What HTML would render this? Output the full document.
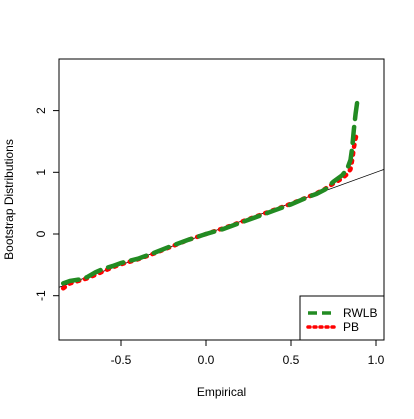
<!DOCTYPE html>
<html><head><meta charset="utf-8"><style>
body{margin:0;background:#fff}
text{font-family:"Liberation Sans",sans-serif;font-size:12px;fill:#000}
</style></head><body>
<svg id="c" width="414" height="414" xmlns="http://www.w3.org/2000/svg">
<rect width="414" height="414" fill="#fff"/>
</svg>
<script>
const xTicks=[-0.5,0,0.5,1];
const yTicks=[-1,0,1,2];
const empirical=[-0.84,-0.8,-0.75,-0.7,-0.65,-0.6,-0.55,-0.5,-0.4,-0.3,-0.2,-0.1,0,0.1,0.2,0.3,0.4,0.5,0.6,0.65,0.7,0.75,0.8,0.83,0.85,0.86,0.87,0.88,0.89];
const rwlb=[-0.8,-0.76,-0.74,-0.7,-0.62,-0.56,-0.52,-0.47,-0.4,-0.3,-0.19,-0.09,0,0.08,0.18,0.28,0.38,0.48,0.6,0.65,0.72,0.85,0.95,1.05,1.2,1.4,1.7,1.95,2.15];
const pb=[-0.88,-0.8,-0.76,-0.72,-0.66,-0.6,-0.54,-0.49,-0.41,-0.31,-0.2,-0.09,0,0.09,0.19,0.29,0.39,0.49,0.6,0.66,0.73,0.82,0.9,0.97,1.05,1.2,1.4,1.55,1.65];
const svg=document.getElementById('c');const NS='http://www.w3.org/2000/svg';
const L=59,R=384,T=59,B=340;
const X=v=>206+v*170;
const Y=v=>234-v*61.7;
function mk(tag,at,p){const e=document.createElementNS(NS,tag);for(const k in at)e.setAttribute(k,at[k]);(p||svg).appendChild(e);return e;}
const clip=mk('clipPath',{id:'cp'});mk('rect',{x:L,y:T,width:R-L,height:B-T},clip);
// abline
const ab=mk('line',{x1:X(-2),y1:Y(-2),x2:X(2),y2:Y(2),stroke:'#000','stroke-width':0.8,'clip-path':'url(#cp)'});


function pts(ys){return empirical.map((x,i)=>X(x)+','+Y(ys[i])).join(' ');}
const pr=mk('polyline',{points:pts(pb),fill:'none',stroke:'#f00','stroke-width':4.5,'stroke-dasharray':'2,6','stroke-linecap':'round','clip-path':'url(#cp)'});


const gr=mk('polyline',{points:pts(rwlb),fill:'none',stroke:'#228b22','stroke-width':4.5,'stroke-dasharray':'16,8','stroke-linecap':'round','clip-path':'url(#cp)'});


const box=mk('rect',{x:L,y:T,width:R-L,height:B-T,fill:'none',stroke:'#000','stroke-width':1});


mk('line',{x1:X(-0.5),y1:B,x2:X(1),y2:B,stroke:'#000'});
xTicks.forEach(t=>{mk('line',{x1:X(t),y1:B,x2:X(t),y2:B+6,stroke:'#000'});
const tx=mk('text',{x:X(t),y:B+24,'text-anchor':'middle'});tx.textContent=t.toFixed(1);

});
mk('line',{x1:L,y1:Y(-1),x2:L,y2:Y(2),stroke:'#000'});
yTicks.forEach(t=>{mk('line',{x1:L-6,y1:Y(t),x2:L,y2:Y(t),stroke:'#000'});
const tx=mk('text',{x:0,y:0,'text-anchor':'middle',transform:`translate(${L-14},${Y(t)}) rotate(-90)`});tx.textContent=t;

});
const xl=mk('text',{x:(L+R)/2,y:396,'text-anchor':'middle'});xl.textContent='Empirical';


const yl=mk('text',{x:0,y:0,'text-anchor':'middle',transform:`translate(13,${(T+B)/2}) rotate(-90)`});yl.textContent='Bootstrap Distributions';


const lg=mk('g',{});


mk('rect',{x:300,y:296,width:84,height:44,fill:'#fff',stroke:'#000'},lg);
mk('line',{x1:308,y1:313,x2:334,y2:313,stroke:'#228b22','stroke-width':3.5,'stroke-dasharray':'9,5'},lg);
mk('line',{x1:308,y1:327,x2:334,y2:327,stroke:'#f00','stroke-width':3.5,'stroke-dasharray':'2,4','stroke-linecap':'round'},lg);
const t1=mk('text',{x:343,y:317},lg);t1.textContent='RWLB';


const t2=mk('text',{x:343,y:331},lg);t2.textContent='PB';


</script>
</body></html>
